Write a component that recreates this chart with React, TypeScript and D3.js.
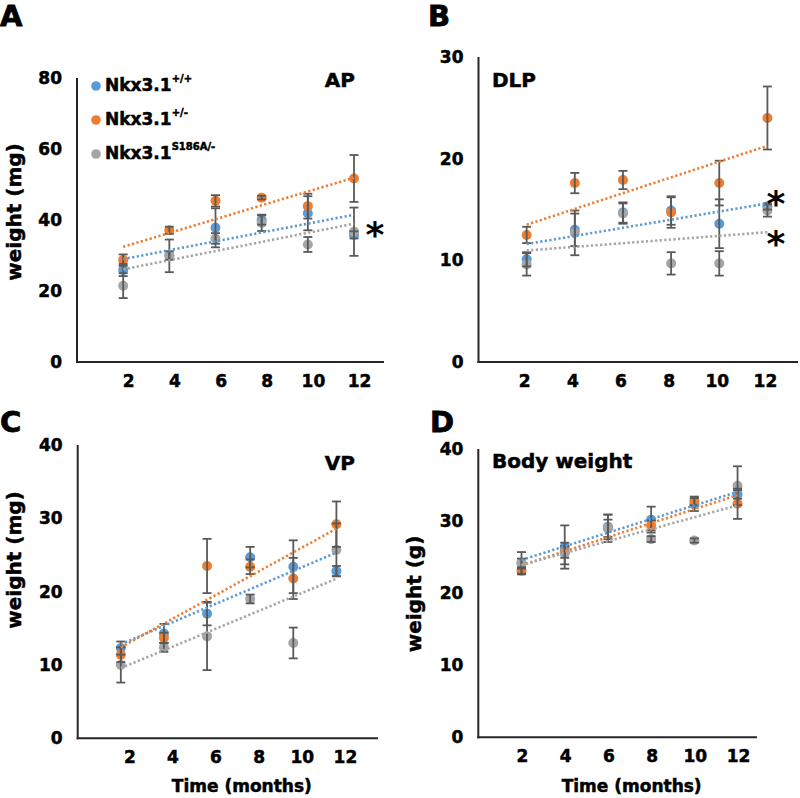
import React from "react";
import * as d3 from "d3";

const months = [2, 4, 6, 8, 10, 12];
const seriesLabels = ["+/+", "+/-", "S186A/-"];
const seriesColors = ["#5B9BD5", "#ED7D31", "#A5A5A5"];

// Panel A: AP (mg)
const apWT = [25.9, 30.0, 37.8, 40.0, 41.9, 35.8];
const apWTErr = [1.7, 1.2, 5.5, 1.3, 4.8, 1.0];
const apHet = [28.7, 37.1, 45.4, 46.3, 43.9, 51.7];
const apHetErr = [1.6, 1.0, 1.6, 0.5, 3.5, 6.6];
const apKI = [21.5, 29.9, 34.8, 39.2, 33.1, 36.7];
const apKIErr = [3.5, 4.6, 1.5, 2.3, 2.1, 6.8];

// Panel B: DLP (mg)
const dlpWT = [10.1, 13.0, 14.7, 14.9, 13.6, 15.3];
const dlpWTErr = [0.7, 1.6, 1.0, 1.4, 2.4, 0.3];
const dlpHet = [12.5, 17.6, 17.9, 14.7, 17.6, 24.0];
const dlpHetErr = [0.8, 1.0, 0.9, 1.5, 2.2, 3.1];
const dlpKI = [9.6, 12.7, 14.6, 9.7, 9.7, 14.9];
const dlpKIErr = [1.1, 2.2, 1.0, 1.1, 1.2, 0.6];

// Panel C: VP (mg)
const vpWT = [12.3, 14.3, 17.0, 24.7, 23.4, 22.8];
const vpWTErr = [0.9, 1.3, 1.6, 1.4, 3.6, 0.7];
const vpHet = [11.4, 13.7, 23.5, 23.4, 21.8, 29.2];
const vpHetErr = [1.0, 0.7, 3.7, 1.0, 2.8, 3.1];
const vpKI = [10.0, 12.4, 13.9, 19.0, 13.0, 25.7];
const vpKIErr = [2.4, 0.6, 4.6, 0.6, 2.1, 3.6];

// Panel D: body weight (g)
const bwWT = [24.2, 26.4, 29.2, 30.2, 32.3, 33.7];
const bwWTErr = [1.5, 3.0, 1.7, 1.8, 0.9, 0.6];
const bwHet = [23.1, 25.7, 29.0, 29.4, 32.8, 32.4];
const bwHetErr = [0.5, 0.8, 1.2, 0.7, 0.6, 2.1];
const bwKI = [24.1, 25.5, 29.0, 27.5, 27.3, 34.9];
const bwKIErr = [0.7, 1.5, 1.9, 0.4, 0.3, 2.7];

const apTicks = [0, 20, 40, 60, 80];
const dlpTicks = [0, 10, 20, 30];
const vpTicks = [0, 10, 20, 30, 40];
const bwTicks = [0, 10, 20, 30, 40];

const FONT = "'DejaVu Sans', Verdana, sans-serif";
const HEAVY = { stroke: "#000", strokeWidth: 0.5 } as const;

function fit(xs: number[], ys: number[]) {
  const mx = d3.mean(xs)!;
  const my = d3.mean(ys)!;
  let num = 0, den = 0;
  xs.forEach((x, i) => { num += (x - mx) * (ys[i] - my); den += (x - mx) ** 2; });
  const b = num / den;
  return (x: number) => my + b * (x - mx);
}

type Panel = {
  letter: string; lx: number; ly: number;
  x0: number; x1: number; xmax: number; y0: number; y1: number; ymax: number;
  ticks: number[]; tickDx: number;
  series: { v: number[]; e: number[] }[];
  title: string; tx: number; ty: number; tAnchor: string;
  ylabel?: string; ylx?: number; yly?: number;
  xlabel?: boolean;
  stars?: number[];
  starX?: number;
  legend?: boolean;
};

const panels: Panel[] = [
  {
    letter: "A", lx: 0, ly: 26, x0: 77, x1: 384, xmax: 13.3, y0: 362, y1: 78, ymax: 80,
    ticks: apTicks, tickDx: 5.6,
    series: [{ v: apWT, e: apWTErr }, { v: apHet, e: apHetErr }, { v: apKI, e: apKIErr }],
    title: "AP", tx: 355, ty: 87, tAnchor: "end", ylabel: "weight (mg)", ylx: 21, yly: 212,
    stars: [228], starX: 375, legend: true,
  },
  {
    letter: "B", lx: 428, ly: 26, x0: 478.5, x1: 798, xmax: 13.27, y0: 362, y1: 57, ymax: 30,
    ticks: dlpTicks, tickDx: -2,
    series: [{ v: dlpWT, e: dlpWTErr }, { v: dlpHet, e: dlpHetErr }, { v: dlpKI, e: dlpKIErr }],
    title: "DLP", tx: 492, ty: 87, tAnchor: "start",
    stars: [197, 237], starX: 776,
  },
  {
    letter: "C", lx: 0, ly: 432, x0: 77.7, x1: 378, xmax: 13.93, y0: 738.3, y1: 445, ymax: 40,
    ticks: vpTicks, tickDx: 9,
    series: [{ v: vpWT, e: vpWTErr }, { v: vpHet, e: vpHetErr }, { v: vpKI, e: vpKIErr }],
    title: "VP", tx: 355, ty: 470, tAnchor: "end", ylabel: "weight (mg)", ylx: 21, yly: 560,
    xlabel: true,
  },
  {
    letter: "D", lx: 430, ly: 432, x0: 478.3, x1: 757, xmax: 12.9, y0: 737.3, y1: 449, ymax: 40,
    ticks: bwTicks, tickDx: 1,
    series: [{ v: bwWT, e: bwWTErr }, { v: bwHet, e: bwHetErr }, { v: bwKI, e: bwKIErr }],
    title: "Body weight", tx: 492, ty: 468, tAnchor: "start", ylabel: "weight (g)", ylx: 421, yly: 594,
    xlabel: true,
  },
];

function PanelView({ p }: { p: Panel }) {
  const x = d3.scaleLinear().domain([0, p.xmax]).range([p.x0, p.x1]);
  const y = d3.scaleLinear().domain([0, p.ymax]).range([p.y0, p.y1]);
  const cap = 4.5;
  return (
    <g>
      <text x={p.lx} y={p.ly} fontSize={29} fontWeight="bold" fontFamily={FONT} {...HEAVY} strokeWidth={0.8}>{p.letter}</text>
      {/* axes */}
      <line x1={p.x0} x2={p.x0} y1={p.y1} y2={p.y0 + 1} stroke="#262626" strokeWidth={2} />
      <line x1={p.x0 - 1} x2={p.x1} y1={p.y0} y2={p.y0} stroke="#262626" strokeWidth={2} />
      {p.ticks.map((t) => (
        <text key={t} x={p.x0 - 15} y={y(t) + 6} textAnchor="end" fontSize={17} fontWeight="bold" fontFamily={FONT} {...HEAVY}>{t}</text>
      ))}
      {months.map((m) => (
        <text key={m} x={x(m) + p.tickDx} y={p.y0 + 25} textAnchor="middle" fontSize={17} fontWeight="bold" fontFamily={FONT} {...HEAVY}>{m}</text>
      ))}
      {/* markers */}
      {p.series.map((s, si) => (
        <g key={"m" + si}>
          {s.v.map((v, i) => (
            <circle key={i} cx={x(months[i])} cy={y(v)} r={5} fill={seriesColors[si]} />
          ))}
        </g>
      ))}
      {/* error bars */}
      {p.series.map((s, si) => (
        <g key={"e" + si} stroke="#595959" strokeWidth={1.8}>
          {s.v.map((v, i) => {
            const cx = x(months[i]);
            const hi = y(v + s.e[i]);
            const lo = y(v - s.e[i]);
            return (
              <g key={i}>
                <line x1={cx} x2={cx} y1={hi} y2={lo} />
                <line x1={cx - cap} x2={cx + cap} y1={hi} y2={hi} />
                <line x1={cx - cap} x2={cx + cap} y1={lo} y2={lo} />
              </g>
            );
          })}
        </g>
      ))}
      {/* trendlines */}
      {p.series.map((s, si) => {
        const f = fit(months, s.v);
        const d = d3.line<number>().x((m) => x(m)).y((m) => y(f(m)))([2, 12]);
        return (
          <path key={"t" + si} d={d || ""} fill="none" stroke={seriesColors[si]} strokeWidth={2.6}
            strokeDasharray="2.2 2.4" strokeLinecap="butt" />
        );
      })}
      <text x={p.tx} y={p.ty} textAnchor={p.tAnchor as any} fontSize={20} fontWeight="bold" fontFamily={FONT} {...HEAVY}>{p.title}</text>
      {p.ylabel && (
        <text transform={`translate(${p.ylx},${p.yly}) rotate(-90)`} textAnchor="middle" fontSize={20} fontWeight="bold" fontFamily={FONT} {...HEAVY}>{p.ylabel}</text>
      )}
      {p.xlabel && (
        <text x={(p.x0 + p.x1) / 2 + 14} y={792} textAnchor="middle" fontSize={17} fontWeight="bold" fontFamily={FONT} {...HEAVY}>Time (months)</text>
      )}
      {p.stars && p.stars.map((sy, k) => (
        <text key={k} x={p.starX} y={sy + 19} textAnchor="middle" fontSize={36} fontWeight="bold" fontFamily={FONT}>*</text>
      ))}
      {p.legend && seriesLabels.map((lab, i) => (
        <g key={lab}>
          <circle cx={96} cy={86 + i * 34} r={4.8} fill={seriesColors[i]} />
          <text x={105} y={91 + i * 34} fontSize={17} fontWeight="bold" fontFamily={FONT} {...HEAVY}>
            Nkx3.1<tspan fontSize={10} dy={-9}>{lab}</tspan>
          </text>
        </g>
      ))}
    </g>
  );
}

export default function App() {
  return (
    <svg width={800} height={798} style={{ position: "absolute", left: 0, top: 0, background: "#fff" }}>
      <rect width={800} height={798} fill="#fff" />
      {panels.map((p) => <PanelView key={p.letter} p={p} />)}
    </svg>
  );
}
